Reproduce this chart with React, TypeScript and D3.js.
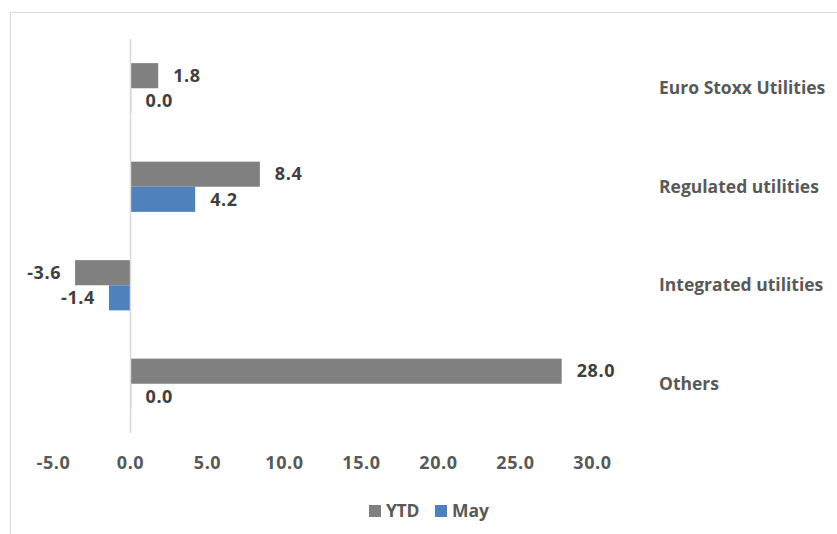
import React from "react";
import * as d3 from "d3";

const categories = ["Euro Stoxx Utilities", "Regulated utilities", "Integrated utilities", "Others"];
const seriesNames = ["YTD", "May"];
const ytdValues = [1.8, 8.4, -3.6, 28.0];
const mayValues = [0.0, 4.2, -1.4, 0.0];
const xTicks = [-5, 0, 5, 10, 15, 20, 25, 30];
const colors = ["#808080", "#4F81BD"];

const W = 837;
const H = 534;
const FONT = "'Open Sans', Lato, sans-serif";

export default function App() {
  const x = d3.scaleLinear().domain([-5, 30]).range([53.5, 592.5]);
  const y = d3.scaleBand<string>().domain(categories).range([39, 433]).paddingInner(0.49).paddingOuter(0.245);
  const sub = d3.scaleBand<string>().domain(seriesNames).range([0, y.bandwidth()]);
  const series = [ytdValues, mayValues];
  const fmt = (v: number) => d3.format(".1f")(v).replace("\u2212", "-");

  return (
    <svg width={W} height={H} style={{ position: "absolute", left: 0, top: 0, background: "#fff" }} fontFamily={FONT}>
      <rect x={10.5} y={12.5} width={W + 10} height={H + 10} fill="#fff" stroke="#d9d9d9" strokeWidth={1} />
      {categories.map((c, i) =>
        series.map((vals, s) => {
          const v = vals[i];
          const y0 = (y(c) as number) + (sub(seriesNames[s]) as number);
          const h = sub.bandwidth();
          const x0 = Math.min(x(0), x(v));
          const w = Math.abs(x(v) - x(0));
          const labelX = v < 0 ? x(v) - 14 : x(Math.max(v, 0)) + 15;
          return (
            <g key={c + s}>
              {w > 0.5 ? (
                <rect x={x0} y={y0} width={w} height={h} fill={colors[s]} />
              ) : (
                <rect x={x(0) - 0.5} y={y0} width={1.5} height={h} fill="#c5d4e8" />
              )}
              <text
                x={labelX}
                y={y0 + h / 2}
                dy="0.35em"
                textAnchor={v < 0 ? "end" : "start"}
                fontSize={18}
                fontWeight="bold"
                fill="#404040"
                letterSpacing={0.6}
              >
                {fmt(v)}
              </text>
            </g>
          );
        })
      )}
      <line x1={x(0)} x2={x(0)} y1={39} y2={433} stroke="#d9d9d9" strokeWidth={1.5} />
      {categories.map((c) => (
        <text key={c} x={659} y={(y(c) as number) + y.bandwidth() / 2} dy="0.35em" fontSize={17.5} fontWeight="bold" fill="#595959">
          {c}
        </text>
      ))}
      {xTicks.map((t) => (
        <text key={t} x={x(t)} y={463} dy="0.35em" textAnchor="middle" fontSize={18} fontWeight="bold" fill="#595959" letterSpacing={0.6}>
          {fmt(t)}
        </text>
      ))}
      <g>
        <rect x={369} y={505} width={12} height={12} fill={colors[0]} />
        <text x={386} y={511} dy="0.35em" fontSize={17.5} fontWeight="bold" fill="#595959" letterSpacing={-0.3}>{seriesNames[0]}</text>
        <rect x={435} y={505} width={12} height={12} fill={colors[1]} />
        <text x={452} y={511} dy="0.35em" fontSize={17.5} fontWeight="bold" fill="#595959">{seriesNames[1]}</text>
      </g>
    </svg>
  );
}
